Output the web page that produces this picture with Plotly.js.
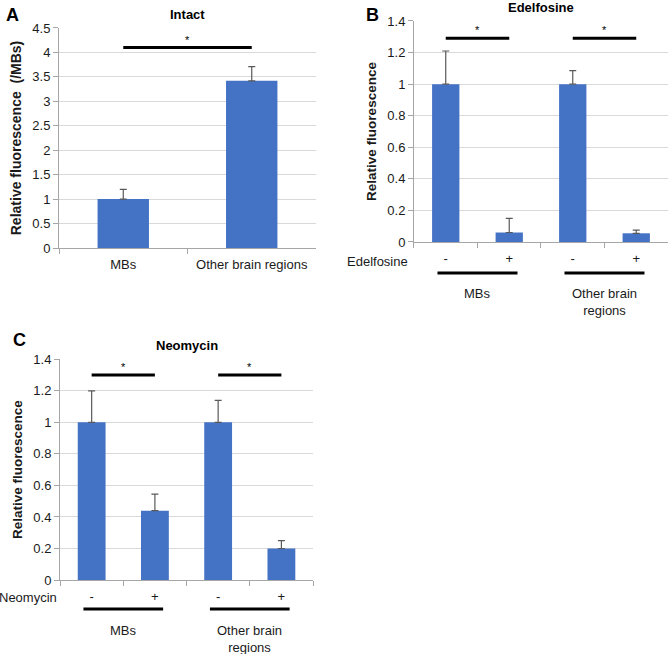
<!DOCTYPE html>
<html>
<head>
<meta charset="utf-8">
<script src="https://cdn.plot.ly/plotly-3.0.1.min.js"></script>
<style>html,body{margin:0;padding:0;background:#fff;}</style>
</head>
<body>
<div id="chart" style="width:670px;height:654px;"></div>
<script>
// ---- Data ----
const intactCats = ["MBs", "Other brain regions"];
const intactVals = [1.0, 3.42];
const intactErr = [0.2, 0.29];

const edelCats = ["MBs -", "MBs +", "Other -", "Other +"];
const edelTicks = ["-", "+", "-", "+"];
const edelVals = [1.0, 0.06, 1.0, 0.055];
const edelErr = [0.21, 0.09, 0.085, 0.02];

const neoCats = ["MBs -", "MBs +", "Other -", "Other +"];
const neoTicks = ["-", "+", "-", "+"];
const neoVals = [1.0, 0.44, 1.0, 0.20];
const neoErr = [0.20, 0.105, 0.14, 0.05];

const groupLabels = ["MBs", "Other brain<br>regions"];
const sigA = {pairs: [[0, 1]], level: 4.1};
const sigB = {pairs: [[0, 1], [2, 3]], level: 1.29};
const sigC = {pairs: [[0, 1], [2, 3]], level: 1.30};

// ---- Styles ----
const BAR = "#4472C4";
const ERR = "#595959";
const AXIS = "#a6a6a6";
const GRID = "#d9d9d9";
const TXT = "#1a1a1a";
const FONT = "Liberation Sans, Arial, sans-serif";

function barTrace(cats, vals, err, xa, ya, w) {
  return {
    type: "bar", x: cats, y: vals, xaxis: xa, yaxis: ya, width: w,
    marker: {color: BAR},
    error_y: {type: "data", array: err, symmetric: false,
              arrayminus: err.map(() => 0), color: ERR, thickness: 1.2, width: 3.5},
    hoverinfo: "skip"
  };
}

const data = [
  barTrace(intactCats, intactVals, intactErr, "x", "y", 0.4),
  barTrace(edelCats, edelVals, edelErr, "x2", "y2", 0.43),
  barTrace(neoCats, neoVals, neoErr, "x3", "y3", 0.44)
];

function xAx(domain, anchor, cats, ticks) {
  const o = {
    domain: domain, anchor: anchor, type: "category",
    showline: true, linecolor: AXIS, linewidth: 1,
    ticks: "outside", ticklen: 5, tickcolor: AXIS, tickson: "boundaries",
    ticklabelstandoff: 4,
    showgrid: false, zeroline: false,
    tickfont: {size: 13, color: TXT, family: FONT},
    fixedrange: true
  };
  if (ticks) { o.tickmode = "array"; o.tickvals = cats; o.ticktext = ticks; }
  return o;
}
function yAx(domain, anchor, range, dtick, title, tsize) {
  return {
    domain: domain, anchor: anchor, range: range, dtick: dtick,
    showline: true, linecolor: AXIS, linewidth: 1,
    ticks: "outside", ticklen: 5, tickcolor: AXIS,
    showgrid: true, gridcolor: GRID, gridwidth: 1, zeroline: false,
    tickfont: {size: 13, color: TXT, family: FONT},
    title: {text: title, font: {size: tsize, color: TXT, family: FONT, weight: "bold"}, standoff: 7},
    fixedrange: true
  };
}

const shapes = [];
const annotations = [];

function addSig(sig, xa, ya) {
  sig.pairs.forEach(p => {
    shapes.push({type: "line", xref: xa, yref: ya, x0: p[0], x1: p[1],
                 y0: sig.level, y1: sig.level, line: {color: "#000", width: 3}});
    annotations.push({xref: xa, yref: ya, x: (p[0] + p[1]) / 2, y: sig.level,
                      text: "*", showarrow: false, yshift: 8,
                      font: {size: 11, color: "#000", family: FONT}});
  });
}
addSig(sigA, "x", "y");
addSig(sigB, "x2", "y2");
addSig(sigC, "x3", "y3");

function addGroups(xa, lineY, labelY) {
  [[0, 1], [2, 3]].forEach((g, i) => {
    shapes.push({type: "line", xref: xa, yref: "paper", x0: g[0] - 0.13, x1: g[1] + 0.13,
                 y0: lineY, y1: lineY, line: {color: "#000", width: 3}});
    annotations.push({xref: xa, yref: "paper", x: (g[0] + g[1]) / 2, y: labelY,
                      yanchor: "top", text: groupLabels[i], showarrow: false,
                      font: {size: 13, color: TXT, family: FONT}});
  });
}
addGroups("x2", 0.5826, 0.5650);
addGroups("x3", 0.0688, 0.0510);

// row labels
annotations.push({xref: "paper", yref: "paper", x: 0.612, y: 0.5994, xanchor: "right", yanchor: "middle",
                  text: "Edelfosine", showarrow: false, font: {size: 13, color: TXT, family: FONT}});
annotations.push({xref: "paper", yref: "paper", x: 0.0875, y: 0.0857, xanchor: "right", yanchor: "middle",
                  text: "Neomycin", showarrow: false, font: {size: 13, color: TXT, family: FONT}});

// panel titles
[["Intact", "x", "y"], ["Edelfosine", "x2", "y2"], ["Neomycin", "x3", "y3"]].forEach(t => {
  annotations.push({xref: t[1] + " domain", yref: t[2] + " domain", x: 0.5, y: 1,
                    yanchor: "bottom", yshift: 4, text: t[0], showarrow: false,
                    font: {size: 13, color: "#000", family: FONT, weight: "bold"}});
});

// panel letters
[["A", 0.006, 0.995], ["B", 0.544, 0.995], ["C", 0.016, 0.498]].forEach(l => {
  annotations.push({xref: "paper", yref: "paper", x: l[1], y: l[2], xanchor: "left", yanchor: "top",
                    text: l[0], showarrow: false,
                    font: {size: 18, color: "#000", family: FONT, weight: "bold"}});
});

const layout = {
  width: 670, height: 654,
  margin: {l: 0, r: 0, t: 0, b: 0},
  paper_bgcolor: "#fff", plot_bgcolor: "#fff",
  showlegend: false,
  font: {family: FONT, color: TXT},
  xaxis: xAx([0.0881, 0.4716], "y", intactCats, null),
  yaxis: yAx([0.6208, 0.9572], "x", [0, 4.5], 0.5, "Relative fluorescence  (/MBs)", 14),
  xaxis2: xAx([0.6179, 0.9970], "y2", edelCats, edelTicks),
  yaxis2: yAx([0.6300, 0.9679], "x2", [0, 1.4], 0.2, "Relative fluorescence", 13.5),
  xaxis3: xAx([0.0896, 0.4672], "y3", neoCats, neoTicks),
  yaxis3: yAx([0.1131, 0.4506], "x3", [0, 1.4], 0.2, "Relative fluorescence", 13.5),
  shapes: shapes,
  annotations: annotations
};

Plotly.newPlot("chart", data, layout, {staticPlot: true, displayModeBar: false});
</script>
</body>
</html>
